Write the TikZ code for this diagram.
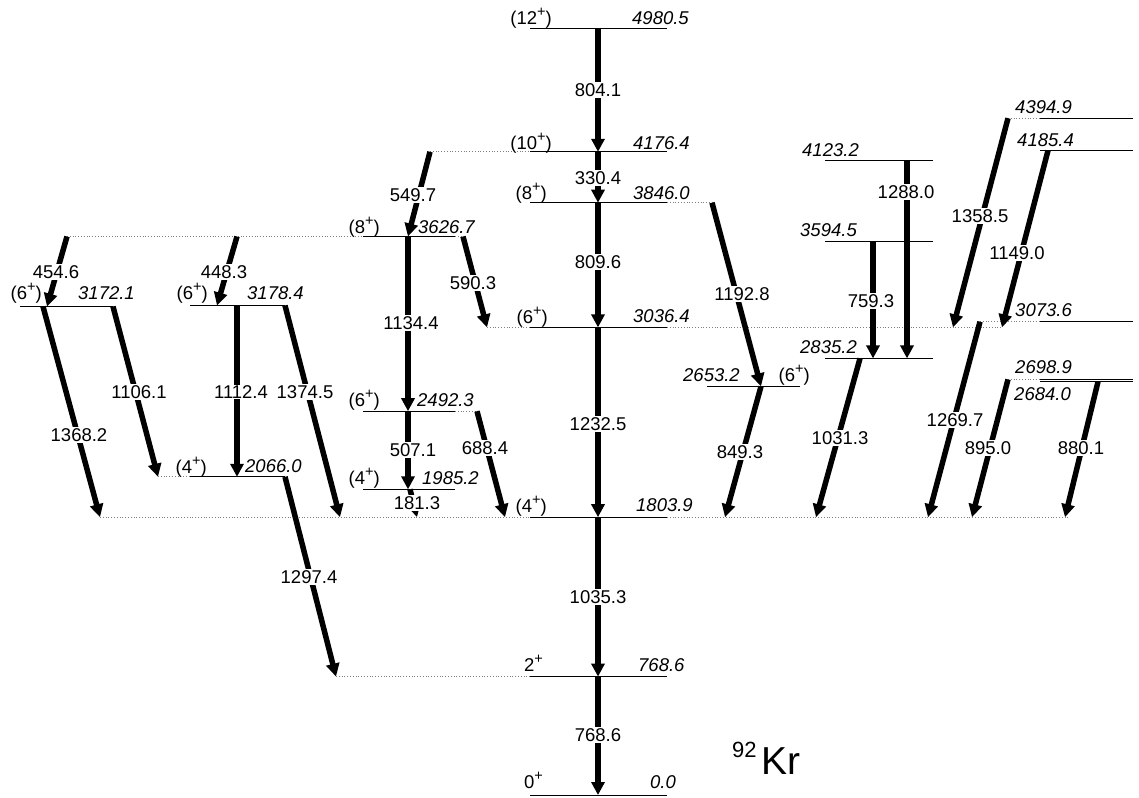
\documentclass[tikz,border=0pt]{standalone}
\usepackage{fontspec}
\setmainfont{Liberation Sans}
\usetikzlibrary{arrows.meta}
\newcommand{\lfont}{\fontsize{18.5}{20}\selectfont}
\newcommand{\plussup}{\raisebox{0.42em}{\fontsize{14.5}{15}\selectfont +}}
\newcommand{\spinp}[1]{(#1\plussup)}
\tikzset{
  lev/.style={line width=0.9pt, black},
  ext/.style={line width=0.8pt, gray, dash pattern=on 0.8pt off 2pt},
  gam/.style={line width=5.5pt, -{Triangle[length=13pt,width=13pt]}},
  glab/.style={fill=white, inner sep=1pt, font=\lfont},
  spinlab/.style={inner sep=0pt, anchor=base east, font=\lfont},
  enlab/.style={inner sep=0pt, anchor=base west, font=\lfont\itshape},
}
\begin{document}
\begin{tikzpicture}[x=1pt,y=-1pt]
\useasboundingbox (0,0) rectangle (1139,797);
% ---------- level lines ----------
\foreach \y in {28,151.8,202.7,327.4,517.2,676.6,795} \draw[lev] (530,\y) -- (667,\y);
\foreach \y in {236.5,411.2,489.3} \draw[lev] (363,\y) -- (455,\y);
\draw[lev] (20,306.5) -- (113,306.5);
\draw[lev] (190,305.5) -- (285,305.5);
\draw[lev] (190,476.8) -- (285,476.8);
\draw[lev] (707,386.4) -- (800,386.4);
\foreach \y in {160.0,241.4,358.4} \draw[lev] (825,\y) -- (933,\y);
\foreach \y in {118.2,150.5,321.7,379.4,381.7} \draw[lev] (1040,\y) -- (1133,\y);
% ---------- dotted extensions ----------
\draw[ext] (430,151.8) -- (530,151.8);
\draw[ext] (667,202.7) -- (712,202.7);
\draw[ext] (487,327.4) -- (530,327.4);
\draw[ext] (667,327.4) -- (1002,327.4);
\draw[ext] (100,517.2) -- (530,517.2);
\draw[ext] (667,517.2) -- (1068,517.2);
\draw[ext] (336,676.6) -- (530,676.6);
\draw[ext] (67,236.5) -- (363,236.5);
\draw[ext] (455,236.5) -- (463,236.5);
\draw[ext] (455,411.2) -- (477,411.2);
\draw[ext] (158,476.8) -- (190,476.8);
\draw[ext] (980,321.7) -- (1040,321.7);
\draw[ext] (1008,118.2) -- (1040,118.2);
\draw[ext] (1008,379.4) -- (1040,379.4);
% ---------- coordinates ----------
\coordinate (m12) at (598,28);
\coordinate (m10) at (598,151.8);
\coordinate (m8) at (598,202.7);
\coordinate (m6) at (598,327.4);
\coordinate (m4) at (598,517.2);
\coordinate (m2) at (598,676.6);
\coordinate (m0) at (598,795);
\coordinate (a549s) at (430,151.8); \coordinate (a549e) at (408,236.5);
\coordinate (a1134e) at (408,411.2);
\coordinate (a507e) at (408,489.3);
\coordinate (a181s) at (410,489.3); \coordinate (a181e) at (417,517.2);
\coordinate (a590s) at (463,236.5); \coordinate (a590e) at (487,327.4);
\coordinate (a688s) at (477,411.2); \coordinate (a688e) at (505,517.2);
\coordinate (a454s) at (67,236.5); \coordinate (a454e) at (47,306.5);
\coordinate (a448s) at (237,236.5); \coordinate (a448e) at (217,305.5);
\coordinate (a1368s) at (43,306.5); \coordinate (a1368e) at (100,517.2);
\coordinate (a1106s) at (113,306.5); \coordinate (a1106e) at (158,476.8);
\coordinate (a1112s) at (237,305.5); \coordinate (a1112e) at (237,476.8);
\coordinate (a1374s) at (285,305.5); \coordinate (a1374e) at (340,517.2);
\coordinate (a1297s) at (285,476.8); \coordinate (a1297e) at (336,676.6);
\coordinate (a1192s) at (712,202.7); \coordinate (a1192e) at (761,386.4);
\coordinate (a849e) at (725,517.2);
\coordinate (a759s) at (873,241.4); \coordinate (a759e) at (873,358.4);
\coordinate (a1288s) at (907,160.0); \coordinate (a1288e) at (907,358.4);
\coordinate (a1031s) at (860,358.4); \coordinate (a1031e) at (816,517.2);
\coordinate (a1358s) at (1008,118.2); \coordinate (a1358e) at (953,327.4);
\coordinate (a1149s) at (1048,150.5); \coordinate (a1149e) at (1002,327.4);
\coordinate (a1269s) at (980,321.7); \coordinate (a1269e) at (928,517.2);
\coordinate (a895s) at (1008,379.4); \coordinate (a895e) at (972,517.2);
\coordinate (a880s) at (1098,381.7); \coordinate (a880e) at (1065,517.2);
% ---------- gamma transitions ----------
\draw[gam] (m12) -- (m10);
\draw[gam] (m10) -- (m8);
\draw[gam] (m8) -- (m6);
\draw[gam] (m6) -- (m4);
\draw[gam] (m4) -- (m2);
\draw[gam] (m2) -- (m0);
\draw[gam] (a549s) -- (a549e);
\draw[gam] (a549e) -- (a1134e);
\draw[gam] (a1134e) -- (a507e);
\draw[gam] (a181s) -- (a181e);
\draw[gam] (a590s) -- (a590e);
\draw[gam] (a688s) -- (a688e);
\draw[gam] (a454s) -- (a454e);
\draw[gam] (a448s) -- (a448e);
\draw[gam] (a1368s) -- (a1368e);
\draw[gam] (a1106s) -- (a1106e);
\draw[gam] (a1112s) -- (a1112e);
\draw[gam] (a1374s) -- (a1374e);
\draw[gam] (a1297s) -- (a1297e);
\draw[gam] (a1192s) -- (a1192e);
\draw[gam] (a1192e) -- (a849e);
\draw[gam] (a759s) -- (a759e);
\draw[gam] (a1288s) -- (a1288e);
\draw[gam] (a1031s) -- (a1031e);
\draw[gam] (a1358s) -- (a1358e);
\draw[gam] (a1149s) -- (a1149e);
\draw[gam] (a1269s) -- (a1269e);
\draw[gam] (a895s) -- (a895e);
\draw[gam] (a880s) -- (a880e);
% ---------- gamma labels ----------
\node[glab] (g804) at (598,90) {804.1};
\node[glab] (g330) at (598,178) {330.4};
\node[glab] (g809) at (598,262) {809.6};
\node[glab] (g1232) at (598,424) {1232.5};
\node[glab] (g1035) at (598,597) {1035.3};
\node[glab] (g768) at (598,735) {768.6};
\node[glab] (g549) at (413,195) {549.7};
\node[glab] (g1134) at (411,323) {1134.4};
\node[glab] (g507) at (413,450) {507.1};
\node[glab] (g181) at (417,503) {181.3};
\node[glab] (g590) at (473,283) {590.3};
\node[glab] (g688) at (485,448) {688.4};
\node[glab] (g454) at (56,272) {454.6};
\node[glab] (g448) at (224,272) {448.3};
\node[glab] (g1368) at (79,435) {1368.2};
\node[glab] (g1106) at (139,392) {1106.1};
\node[glab] (g1112) at (241,392) {1112.4};
\node[glab] (g1374) at (305,392) {1374.5};
\node[glab] (g1297) at (309,577) {1297.4};
\node[glab] (g1192) at (742,294) {1192.8};
\node[glab] (g849) at (740,452) {849.3};
\node[glab] (g1288) at (906,192) {1288.0};
\node[glab] (g759) at (871,301) {759.3};
\node[glab] (g1031) at (840,438) {1031.3};
\node[glab] (g1358) at (980,216) {1358.5};
\node[glab] (g1149) at (1017,253) {1149.0};
\node[glab] (g1269) at (955,420) {1269.7};
\node[glab] (g895) at (988,448) {895.0};
\node[glab] (g880) at (1081,448) {880.1};
% ---------- level energies ----------
\node[enlab] (e4980) at (632,24.5) {4980.5};
\node[enlab] (e4176) at (633,149.5) {4176.4};
\node[enlab] (e3846) at (633,199.5) {3846.0};
\node[enlab] (e3036) at (633,322.5) {3036.4};
\node[enlab] (e1803) at (636,511.5) {1803.9};
\node[enlab] (e768) at (638,671.5) {768.6};
\node[enlab] (e0) at (650,788.5) {0.0};
\node[enlab] (e3626) at (418,233.5) {3626.7};
\node[enlab] (e2492) at (417,406.5) {2492.3};
\node[enlab] (e1985) at (422,484.5) {1985.2};
\node[enlab] (e3172) at (78,299.5) {3172.1};
\node[enlab] (e3178) at (247,299.5) {3178.4};
\node[enlab] (e2066) at (245,472.5) {2066.0};
\node[enlab] (e2653) at (683,381.5) {2653.2};
\node[enlab] (e4123) at (802,156.5) {4123.2};
\node[enlab] (e3594) at (800,236.5) {3594.5};
\node[enlab] (e2835) at (800,353.5) {2835.2};
\node[enlab] (e4394) at (1015,113.5) {4394.9};
\node[enlab] (e4185) at (1017,146.5) {4185.4};
\node[enlab] (e3073) at (1015,316.5) {3073.6};
\node[enlab] (e2698) at (1015,373.5) {2698.9};
\node[enlab] (e2684) at (1014,400.5) {2684.0};
% ---------- spins ----------
\node[spinlab] (s12) at (552,24.5) {\spinp{12}};
\node[spinlab] (s10) at (552,149.5) {\spinp{10}};
\node[spinlab] (s8) at (547,199.5) {\spinp{8}};
\node[spinlab] (s6) at (548,323.5) {\spinp{6}};
\node[spinlab] (s4) at (547,512.5) {\spinp{4}};
\node[spinlab] (s2) at (543,671.5) {2\plussup};
\node[spinlab] (s0) at (543,788.5) {0\plussup};
\node[spinlab] (s8b) at (380,233.5) {\spinp{8}};
\node[spinlab] (s6b) at (380,406.5) {\spinp{6}};
\node[spinlab] (s4b) at (380,484.5) {\spinp{4}};
\node[spinlab] (s6c) at (42,299.5) {\spinp{6}};
\node[spinlab] (s6d) at (208,299.5) {\spinp{6}};
\node[spinlab] (s4c) at (207,473.5) {\spinp{4}};
\node[spinlab] (s6e) at (810,381.5) {\spinp{6}};
% ---------- nucleus ----------
\node[inner sep=0pt, anchor=base west, font=\fontsize{22}{24}\selectfont] (A) at (732,757) {92};
\node[inner sep=0pt, anchor=base west, font=\fontsize{39}{42}\selectfont] (Kr) at (761,774) {Kr};
\end{tikzpicture}
\end{document}
